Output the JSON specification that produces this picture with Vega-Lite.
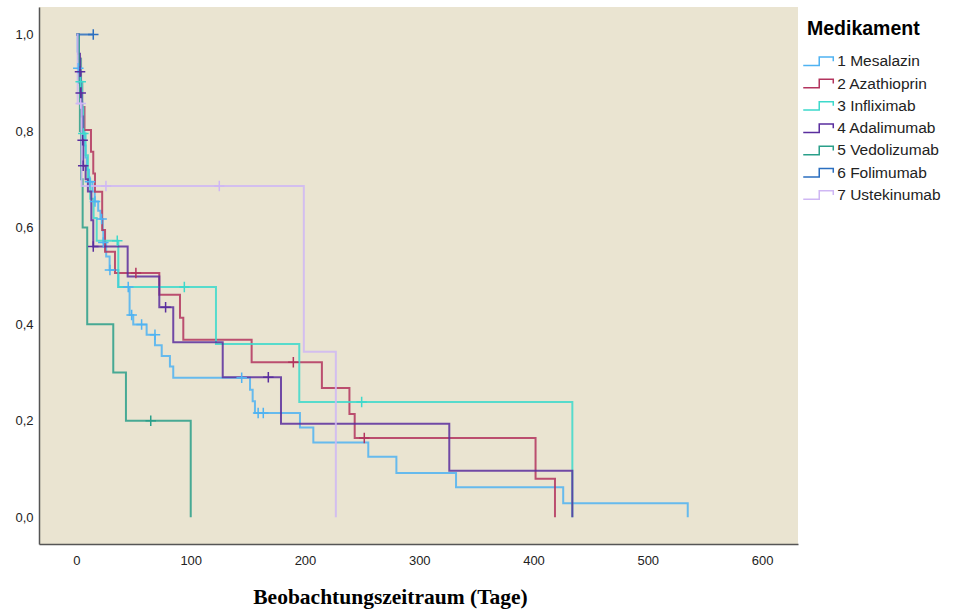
{
  "$schema": "https://vega.github.io/schema/vega-lite/v6.json",
  "width": 759,
  "height": 537,
  "autosize": {"type": "none"},
  "padding": {"left": 39, "top": 7, "right": 157, "bottom": 67},
  "background": "white",
  "view": {"fill": "#EAE4D1", "stroke": null},
  "config": {"font": "Liberation Sans"},
  "datasets": {
    "curves": [
      {"d": "1 Mesalazin", "t": 0, "s": 1.0},
      {"d": "1 Mesalazin", "t": 1, "s": 0.965},
      {"d": "1 Mesalazin", "t": 2, "s": 0.93},
      {"d": "1 Mesalazin", "t": 3, "s": 0.895},
      {"d": "1 Mesalazin", "t": 4, "s": 0.86},
      {"d": "1 Mesalazin", "t": 5, "s": 0.83},
      {"d": "1 Mesalazin", "t": 6, "s": 0.8},
      {"d": "1 Mesalazin", "t": 7, "s": 0.77},
      {"d": "1 Mesalazin", "t": 8, "s": 0.745},
      {"d": "1 Mesalazin", "t": 9, "s": 0.72},
      {"d": "1 Mesalazin", "t": 11, "s": 0.695},
      {"d": "1 Mesalazin", "t": 14, "s": 0.675},
      {"d": "1 Mesalazin", "t": 16, "s": 0.654},
      {"d": "1 Mesalazin", "t": 19, "s": 0.635},
      {"d": "1 Mesalazin", "t": 21, "s": 0.618},
      {"d": "1 Mesalazin", "t": 23, "s": 0.594},
      {"d": "1 Mesalazin", "t": 23.5, "s": 0.569},
      {"d": "1 Mesalazin", "t": 26, "s": 0.54},
      {"d": "1 Mesalazin", "t": 29, "s": 0.512},
      {"d": "1 Mesalazin", "t": 36.6, "s": 0.477},
      {"d": "1 Mesalazin", "t": 46.5, "s": 0.419},
      {"d": "1 Mesalazin", "t": 49.7, "s": 0.399},
      {"d": "1 Mesalazin", "t": 61.4, "s": 0.378},
      {"d": "1 Mesalazin", "t": 68.7, "s": 0.356},
      {"d": "1 Mesalazin", "t": 74.6, "s": 0.334},
      {"d": "1 Mesalazin", "t": 81.8, "s": 0.312},
      {"d": "1 Mesalazin", "t": 84.7, "s": 0.289},
      {"d": "1 Mesalazin", "t": 151.9, "s": 0.264},
      {"d": "1 Mesalazin", "t": 154.2, "s": 0.24},
      {"d": "1 Mesalazin", "t": 156.2, "s": 0.216},
      {"d": "1 Mesalazin", "t": 195.6, "s": 0.186},
      {"d": "1 Mesalazin", "t": 207.3, "s": 0.155},
      {"d": "1 Mesalazin", "t": 255.4, "s": 0.125},
      {"d": "1 Mesalazin", "t": 280, "s": 0.0915},
      {"d": "1 Mesalazin", "t": 332.2, "s": 0.062},
      {"d": "1 Mesalazin", "t": 426, "s": 0.029},
      {"d": "1 Mesalazin", "t": 535, "s": 0.0},

      {"d": "2 Azathioprin", "t": 0, "s": 1.0},
      {"d": "2 Azathioprin", "t": 2, "s": 0.95},
      {"d": "2 Azathioprin", "t": 4, "s": 0.9},
      {"d": "2 Azathioprin", "t": 5, "s": 0.85},
      {"d": "2 Azathioprin", "t": 7, "s": 0.802},
      {"d": "2 Azathioprin", "t": 12.7, "s": 0.757},
      {"d": "2 Azathioprin", "t": 14.7, "s": 0.712},
      {"d": "2 Azathioprin", "t": 16.2, "s": 0.674},
      {"d": "2 Azathioprin", "t": 22.5, "s": 0.595},
      {"d": "2 Azathioprin", "t": 25, "s": 0.55},
      {"d": "2 Azathioprin", "t": 33.7, "s": 0.506},
      {"d": "2 Azathioprin", "t": 72.5, "s": 0.461},
      {"d": "2 Azathioprin", "t": 90.6, "s": 0.413},
      {"d": "2 Azathioprin", "t": 93.5, "s": 0.3675},
      {"d": "2 Azathioprin", "t": 153.3, "s": 0.321},
      {"d": "2 Azathioprin", "t": 214.8, "s": 0.2675},
      {"d": "2 Azathioprin", "t": 238.9, "s": 0.2137},
      {"d": "2 Azathioprin", "t": 243.5, "s": 0.164},
      {"d": "2 Azathioprin", "t": 401.8, "s": 0.0797},
      {"d": "2 Azathioprin", "t": 418.8, "s": 0.0},

      {"d": "3 Infliximab", "t": 0, "s": 1.0},
      {"d": "3 Infliximab", "t": 2, "s": 0.95},
      {"d": "3 Infliximab", "t": 3.7, "s": 0.902},
      {"d": "3 Infliximab", "t": 5, "s": 0.85},
      {"d": "3 Infliximab", "t": 6, "s": 0.795},
      {"d": "3 Infliximab", "t": 8, "s": 0.75},
      {"d": "3 Infliximab", "t": 10, "s": 0.7},
      {"d": "3 Infliximab", "t": 12, "s": 0.66},
      {"d": "3 Infliximab", "t": 15, "s": 0.62},
      {"d": "3 Infliximab", "t": 17.7, "s": 0.573},
      {"d": "3 Infliximab", "t": 36.6, "s": 0.477},
      {"d": "3 Infliximab", "t": 122.1, "s": 0.3586},
      {"d": "3 Infliximab", "t": 195, "s": 0.2385},
      {"d": "3 Infliximab", "t": 434, "s": 0.0},

      {"d": "4 Adalimumab", "t": 0, "s": 1.0},
      {"d": "4 Adalimumab", "t": 1.5, "s": 0.96},
      {"d": "4 Adalimumab", "t": 3.1, "s": 0.923},
      {"d": "4 Adalimumab", "t": 3.7, "s": 0.879},
      {"d": "4 Adalimumab", "t": 4.5, "s": 0.83},
      {"d": "4 Adalimumab", "t": 5.4, "s": 0.781},
      {"d": "4 Adalimumab", "t": 5.9, "s": 0.728},
      {"d": "4 Adalimumab", "t": 8, "s": 0.7},
      {"d": "4 Adalimumab", "t": 10, "s": 0.675},
      {"d": "4 Adalimumab", "t": 13, "s": 0.615},
      {"d": "4 Adalimumab", "t": 14.7, "s": 0.561},
      {"d": "4 Adalimumab", "t": 44.8, "s": 0.4986},
      {"d": "4 Adalimumab", "t": 72.5, "s": 0.435},
      {"d": "4 Adalimumab", "t": 84.7, "s": 0.3627},
      {"d": "4 Adalimumab", "t": 128, "s": 0.29},
      {"d": "4 Adalimumab", "t": 179, "s": 0.1936},
      {"d": "4 Adalimumab", "t": 326.3, "s": 0.0963},
      {"d": "4 Adalimumab", "t": 434, "s": 0.0},

      {"d": "5 Vedolizumab", "t": 0, "s": 1.0},
      {"d": "5 Vedolizumab", "t": 2, "s": 0.9},
      {"d": "5 Vedolizumab", "t": 3, "s": 0.8},
      {"d": "5 Vedolizumab", "t": 4, "s": 0.7},
      {"d": "5 Vedolizumab", "t": 5.4, "s": 0.6},
      {"d": "5 Vedolizumab", "t": 9.4, "s": 0.4},
      {"d": "5 Vedolizumab", "t": 32.2, "s": 0.3},
      {"d": "5 Vedolizumab", "t": 43.3, "s": 0.2},
      {"d": "5 Vedolizumab", "t": 100, "s": 0.0},

      {"d": "6 Folimumab", "t": 0, "s": 1.0},
      {"d": "6 Folimumab", "t": 14.7, "s": 1.0},

      {"d": "7 Ustekinumab", "t": 0, "s": 1.0},
      {"d": "7 Ustekinumab", "t": 1, "s": 0.857},
      {"d": "7 Ustekinumab", "t": 4.5, "s": 0.686},
      {"d": "7 Ustekinumab", "t": 199, "s": 0.343},
      {"d": "7 Ustekinumab", "t": 227, "s": 0.0}
    ],
    "censor": [
      {"d": "1 Mesalazin", "t": 1.6, "s": 0.93},
      {"d": "1 Mesalazin", "t": 11.8, "s": 0.695},
      {"d": "1 Mesalazin", "t": 16.2, "s": 0.654},
      {"d": "1 Mesalazin", "t": 22, "s": 0.618},
      {"d": "1 Mesalazin", "t": 23.5, "s": 0.569},
      {"d": "1 Mesalazin", "t": 29.3, "s": 0.512},
      {"d": "1 Mesalazin", "t": 45.3, "s": 0.477},
      {"d": "1 Mesalazin", "t": 48.3, "s": 0.419},
      {"d": "1 Mesalazin", "t": 57, "s": 0.399},
      {"d": "1 Mesalazin", "t": 68.7, "s": 0.378},
      {"d": "1 Mesalazin", "t": 144.6, "s": 0.289},
      {"d": "1 Mesalazin", "t": 159, "s": 0.216},
      {"d": "1 Mesalazin", "t": 163.5, "s": 0.216},
      {"d": "2 Azathioprin", "t": 52, "s": 0.506},
      {"d": "2 Azathioprin", "t": 189.8, "s": 0.321},
      {"d": "2 Azathioprin", "t": 251.9, "s": 0.164},
      {"d": "3 Infliximab", "t": 3.7, "s": 0.902},
      {"d": "3 Infliximab", "t": 6, "s": 0.795},
      {"d": "3 Infliximab", "t": 35.7, "s": 0.573},
      {"d": "3 Infliximab", "t": 94.4, "s": 0.477},
      {"d": "3 Infliximab", "t": 249.6, "s": 0.2385},
      {"d": "4 Adalimumab", "t": 3.1, "s": 0.923},
      {"d": "4 Adalimumab", "t": 3.7, "s": 0.879},
      {"d": "4 Adalimumab", "t": 5.4, "s": 0.781},
      {"d": "4 Adalimumab", "t": 5.9, "s": 0.728},
      {"d": "4 Adalimumab", "t": 14.7, "s": 0.561},
      {"d": "4 Adalimumab", "t": 78, "s": 0.435},
      {"d": "4 Adalimumab", "t": 167.9, "s": 0.29},
      {"d": "5 Vedolizumab", "t": 65, "s": 0.2},
      {"d": "6 Folimumab", "t": 14.7, "s": 1.0},
      {"d": "7 Ustekinumab", "t": 3.7, "s": 0.857},
      {"d": "7 Ustekinumab", "t": 25.8, "s": 0.686},
      {"d": "7 Ustekinumab", "t": 125, "s": 0.686}
    ]
  },
  "encoding": {
    "x": {
      "field": "t", "type": "quantitative",
      "scale": {"domain": [-32.8, 631.5], "nice": false, "zero": false},
      "axis": {
        "values": [0, 100, 200, 300, 400, 500, 600],
        "grid": false, "ticks": false, "tickSize": 0,
        "domainColor": "#555555", "domainWidth": 1.5,
        "labelFontSize": 13, "labelColor": "#222222", "labelPadding": 10,
        "title": "Beobachtungszeitraum (Tage)",
        "titleFont": "Liberation Serif", "titleFontSize": 21.5, "titleFontWeight": "bold",
        "titleColor": "#000000", "titleX": 351, "titleY": 53,
        "titleAlign": "center", "titleBaseline": "middle", "titleAnchor": null
      }
    },
    "y": {
      "field": "s", "type": "quantitative",
      "scale": {"domain": [-0.0555, 1.057], "nice": false, "zero": false},
      "axis": {
        "values": [0, 0.2, 0.4, 0.6, 0.8, 1.0],
        "labelExpr": "replace(format(datum.value, '.1f'), '.', ',')",
        "grid": false, "ticks": false, "tickSize": 0,
        "domainColor": "#555555", "domainWidth": 1.5,
        "labelFontSize": 13, "labelColor": "#222222", "labelPadding": 6,
        "title": null
      }
    },
    "color": {
      "field": "d", "type": "nominal",
      "scale": {
        "domain": ["1 Mesalazin", "2 Azathioprin", "3 Infliximab", "4 Adalimumab", "5 Vedolizumab", "6 Folimumab", "7 Ustekinumab"],
        "range": ["#4FB3F2", "#B3345E", "#3DD9CB", "#5A2E9E", "#2A9F8A", "#2B6FC0", "#CFB7F4"]
      },
      "legend": {
        "orient": "none", "legendX": 768, "legendY": 13,
        "title": "Medikament", "titleFontSize": 19.5, "titleFontWeight": "bold", "titleColor": "#000000",
        "titlePadding": 14,
        "labelFontSize": 15.5, "labelColor": "#222222", "labelOffset": 14.7,
        "symbolType": "M-1.77,0.65H0.69V-0.65H2.85V0",
        "symbolSize": 169, "symbolStrokeWidth": 1.5, "symbolFillColor": "transparent",
        "symbolOpacity": 1, "rowPadding": 5.3, "padding": 0
      }
    }
  },
  "layer": [
    {
      "data": {"name": "curves"},
      "mark": {"type": "line", "interpolate": "step-after", "strokeWidth": 2, "opacity": 0.85}
    },
    {
      "data": {"name": "censor"},
      "mark": {"type": "point", "shape": "M-1,0H1M0,-1V1", "size": 110, "filled": false, "strokeWidth": 1.5, "opacity": 1},
      "encoding": {"color": {"field": "d", "type": "nominal", "legend": null}}
    }
  ]
}
